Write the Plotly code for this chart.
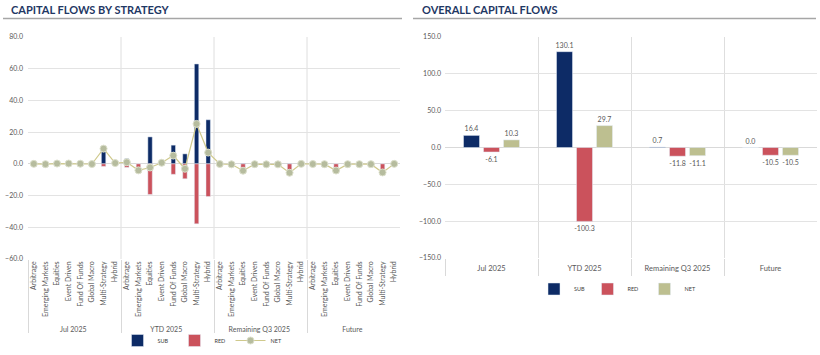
import plotly.graph_objects as go

# ---------------- data ----------------
periods = ["Jul 2025", "YTD 2025", "Remaining Q3 2025", "Future"]
strategies = ["Arbitrage", "Emerging Markets", "Equities", "Event Driven",
              "Fund Of Funds", "Global Macro", "Multi-Strategy", "Hybrid"]

sub_jul = [0.4, 0.4, 1.3, 0.7, 1.0, 0.4, 11.2, 1.0]
red_jul = [-0.4, -0.6, -1.1, -0.5, -0.9, -0.5, -1.6, -0.5]
net_jul = [0.0, -0.2, 0.2, 0.2, 0.1, -0.1, 9.6, 0.5]

sub_ytd = [3.2, 0.0, 17.0, 1.0, 11.8, 6.3, 63.0, 27.8]
red_ytd = [-2.2, -4.1, -19.3, -0.3, -6.6, -9.4, -37.8, -20.6]
net_ytd = [1.0, -4.1, -2.3, 0.7, 5.2, -3.1, 25.2, 7.1]

sub_rem = [0.1, 0.0, 0.3, 0.1, 0.0, 0.0, 0.2, 0.0]
red_rem = [-0.2, -0.3, -4.6, -0.3, -0.3, -0.3, -5.8, 0.0]
net_rem = [-0.1, -0.3, -4.3, -0.2, -0.3, -0.3, -5.6, 0.0]

sub_fut = [0.0, 0.0, 0.0, 0.0, 0.0, 0.0, 0.0, 0.0]
red_fut = [-0.1, -0.2, -4.2, -0.2, -0.2, -0.2, -5.4, 0.0]
net_fut = [-0.1, -0.2, -4.2, -0.2, -0.2, -0.2, -5.4, 0.0]

overall_sub = [16.4, 130.1, 0.7, 0.0]
overall_red = [-6.1, -100.3, -11.8, -10.5]
overall_net = [10.3, 29.7, -11.1, -10.5]

series_names = ["SUB", "RED", "NET"]

# ---------------- style ----------------
C_SUB = "#0D2B66"
C_RED = "#CB525C"
C_NET = "#BDBF90"
C_NET_LINE = "#CFC98C"
C_NET_MARK = "#B6BC9E"
GRID = "#E3E3E3"
TXT = "#595959"
FONT = "Lato"

x_lvl1 = [p for p in periods for _ in strategies]
x_lvl2 = [s for _ in periods for s in strategies]
sub_all = sub_jul + sub_ytd + sub_rem + sub_fut
red_all = red_jul + red_ytd + red_rem + red_fut
net_all = net_jul + net_ytd + net_rem + net_fut
n_cat = len(x_lvl2)

fig = go.Figure()

# left chart
fig.add_trace(go.Bar(x=[x_lvl1, x_lvl2], y=sub_all, name=series_names[0],
                     marker_color=C_SUB, offsetgroup="s", width=0.38,
                     xaxis="x", yaxis="y", legend="legend"))
fig.add_trace(go.Bar(x=[x_lvl1, x_lvl2], y=red_all, name=series_names[1],
                     marker_color=C_RED, offsetgroup="s", width=0.38,
                     xaxis="x", yaxis="y", legend="legend2"))
fig.add_trace(go.Scatter(x=[x_lvl1, x_lvl2], y=net_all, name=series_names[2],
                         mode="lines+markers",
                         line=dict(color=C_NET_LINE, width=1.2),
                         marker=dict(size=7, color=C_NET_MARK,
                                     line=dict(color="#DCDFCB", width=1)),
                         xaxis="x", yaxis="y", legend="legend3"))

# right chart
for vals, name, col, lg in [(overall_sub, series_names[0], C_SUB, "legend4"),
                            (overall_red, series_names[1], C_RED, "legend5"),
                            (overall_net, series_names[2], C_NET, "legend6")]:
    fig.add_trace(go.Bar(x=periods, y=vals, name=name, marker_color=col,
                         text=[f"{v:.1f}" for v in vals],
                         textposition="outside", cliponaxis=False,
                         constraintext="none",
                         textfont=dict(size=7, color=TXT, family=FONT),
                         xaxis="x2", yaxis="y2", legend=lg))

W, H = 820, 355

def px_x(p):
    return p / W

def px_y(p):
    return 1 - p / H

def leg(cx, y, yanchor):
    return dict(orientation="h", x=px_x(cx - 19.5), y=y, xanchor="left",
                yanchor=yanchor, font=dict(size=5.5, color="#404040"),
                itemwidth=30, bgcolor="rgba(0,0,0,0)")

fig.update_layout(
    width=W, height=H, autosize=False, showlegend=True,
    margin=dict(l=0, r=0, t=0, b=0),
    paper_bgcolor="white", plot_bgcolor="white",
    font=dict(family=FONT, size=7, color=TXT),
    barmode="group", bargap=0.355, bargroupgap=0.2,
    xaxis=dict(type="multicategory", domain=[px_x(28), px_x(400)], anchor="y",
               range=[-0.5, n_cat - 0.5],
               tickangle=-90, tickfont=dict(size=7, color=TXT),
               showdividers=True, dividercolor="#D9D9D9", dividerwidth=1,
               showgrid=False, showline=False, ticks="", automargin=False),
    yaxis=dict(domain=[px_y(259), px_y(37)], anchor="x", range=[-60, 80], dtick=20,
               tickformat=".1f", gridcolor=GRID, zeroline=True,
               zerolinecolor="#D9D9D9", zerolinewidth=1, showline=False,
               tickfont=dict(size=7, color=TXT), ticklabelstandoff=4,
               automargin=False),
    xaxis2=dict(domain=[px_x(445), px_x(817)], anchor="y2",
                tickson="boundaries", ticks="outside", ticklen=17,
                tickcolor="#D9D9D9", showgrid=True, gridcolor="#DEDEDE",
                tickfont=dict(size=7.5, color=TXT), showline=False,
                ticklabelstandoff=4, automargin=False),
    yaxis2=dict(domain=[px_y(258), px_y(37)], anchor="x2", range=[-150, 150],
                dtick=50, tickformat=".1f", gridcolor=GRID, zeroline=True,
                zerolinecolor="#D9D9D9", zerolinewidth=1, showline=False,
                tickfont=dict(size=7, color=TXT), ticklabelstandoff=3,
                automargin=False),
    legend=leg(137, 0, "bottom"), legend2=leg(194, 0, "bottom"),
    legend3=leg(250, 0, "bottom"),
    legend4=leg(553.5, px_y(289), "middle"), legend5=leg(607, px_y(289), "middle"),
    legend6=leg(664, px_y(289), "middle"),
    annotations=[
        dict(text="<b>CAPITAL FLOWS BY STRATEGY</b>", x=px_x(9), y=px_y(10),
             xref="paper", yref="paper", xanchor="left", yanchor="middle",
             showarrow=False, font=dict(family=FONT, size=11, color="#1F3864")),
        dict(text="<b>OVERALL CAPITAL FLOWS</b>", x=px_x(420), y=px_y(10),
             xref="paper", yref="paper", xanchor="left", yanchor="middle",
             showarrow=False, font=dict(family=FONT, size=11, color="#1F3864")),
    ],
    shapes=[
        dict(type="line", xref="paper", yref="paper", x0=px_x(3), x1=px_x(402),
             y0=px_y(18.5), y1=px_y(18.5), line=dict(color="#A6A6A6", width=1.5)),
        dict(type="line", xref="paper", yref="paper", x0=px_x(413), x1=px_x(816),
             y0=px_y(18.5), y1=px_y(18.5), line=dict(color="#A6A6A6", width=1.5)),
    ] + [
        dict(type="line", xref="x domain", yref="y domain", x0=k / len(periods),
             x1=k / len(periods), y0=0, y1=1, layer="below",
             line=dict(color="#DEDEDE", width=1))
        for k in range(1, len(periods))
    ],
)

post = ("document.body.style.margin='0';document.body.style.overflow='hidden';")

fig.write_html("out.html",
               config={"displayModeBar": False, "staticPlot": True},
               post_script=post)
